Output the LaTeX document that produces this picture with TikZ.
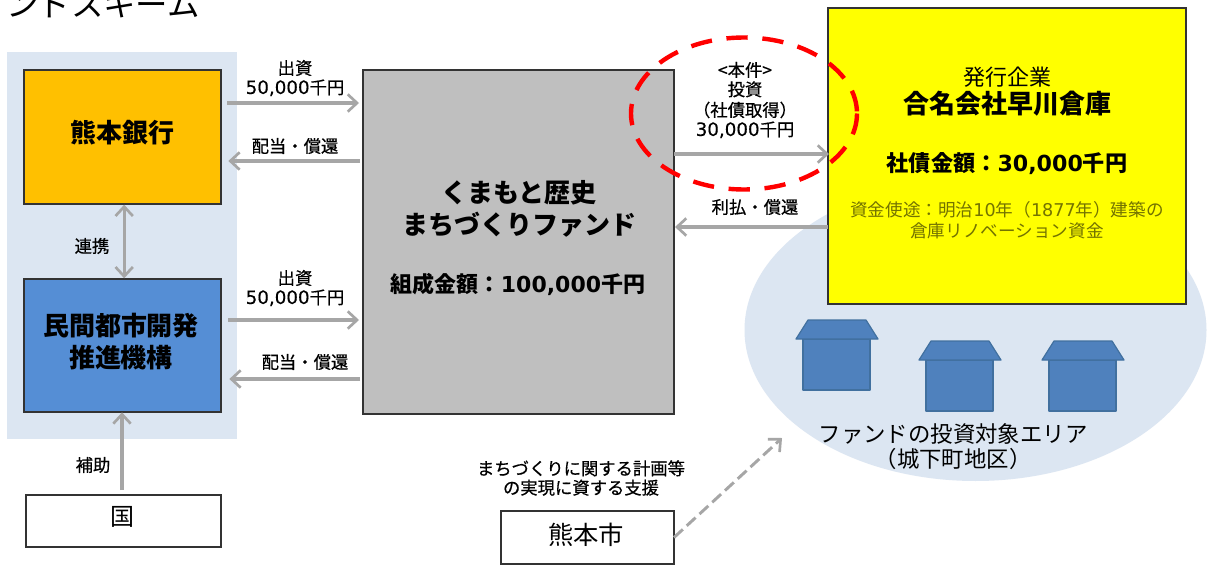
\documentclass[tikz,border=0pt]{standalone}
\usepackage{fontspec}
\setmainfont{Noto Sans CJK JP}
\newfontfamily\latinfont{DejaVu Sans}
\newfontfamily\labfont[FakeBold=0.6]{Noto Sans CJK JP}
\newfontfamily\lablatin[FakeBold=0.4]{DejaVu Sans}
\usetikzlibrary{arrows.meta,calc}
\newcommand{\fsz}[1]{\fontsize{#1}{#1}\selectfont}
\newcommand{\numt}[1]{{\latinfont #1}}
\newcommand{\numl}[1]{{\lablatin\fontsize{13.7}{13.7}\selectfont #1}}
\definecolor{panelblue}{HTML}{DCE6F2}
\definecolor{bankorange}{HTML}{FFC000}
\definecolor{orgblue}{HTML}{558ED5}
\definecolor{fundgray}{HTML}{BFBFBF}
\definecolor{lineblack}{HTML}{333333}
\definecolor{arrowgray}{HTML}{A6A6A6}
\definecolor{housefill}{HTML}{4F81BD}
\definecolor{houseline}{HTML}{41709F}
\definecolor{olivetext}{HTML}{737300}
\definecolor{dashred}{HTML}{FF0000}
\definecolor{issuerfill}{HTML}{FFFF00}
\tikzset{
  x=0.75pt,y=-0.75pt,
  boxn/.style={draw=lineblack,line width=1.3pt,anchor=north west,inner sep=0pt,outer sep=0pt},
  flow/.style={draw=arrowgray,line width=2.4pt,-{Straight Barb[length=7pt,width=13pt,line width=2pt]}},
  flowboth/.style={draw=arrowgray,line width=2.4pt,{Straight Barb[length=7pt,width=13pt,line width=2pt]}-{Straight Barb[length=7pt,width=13pt,line width=2pt]}},
  flowdash/.style={draw=arrowgray,line width=2.2pt,dash pattern=on 9pt off 4pt,-{Straight Barb[length=7pt,width=13pt,line width=2pt]}},
  lab/.style={align=center,inner sep=0pt,font=\labfont\fsz{13}},
  big/.style={align=center,inner sep=0pt,font=\fsz{19.5}\bfseries},
  house/.style={fill=housefill,draw=houseline,line width=0.9pt,line join=round},
}
\begin{document}
\begin{tikzpicture}
\useasboundingbox (0,0) rectangle (1218,567);
\fill[white] (0,0) rectangle (1218,567);
\begin{scope}
\clip (0,0) rectangle (1218,567);
\node[anchor=base west,inner sep=0pt,font=\fsz{24.3}] (title) at (6,16.5) {ンドスキーム};
\end{scope}
% backgrounds
\fill[panelblue] (7,52) rectangle (237,439);
\fill[panelblue] (975.5,330) ellipse [x radius=231,y radius=151];
% boxes
\node[boxn,fill=bankorange,minimum width=148pt,minimum height=100.5pt] (bank) at (24,70) {};
\node[boxn,fill=orgblue,minimum width=148pt,minimum height=100pt] (org) at (24,279) {};
\node[boxn,fill=fundgray,minimum width=233.25pt,minimum height=258pt] (fund) at (363,70) {};
\node[boxn,fill=issuerfill,minimum width=268.5pt,minimum height=222pt] (issuer) at (828,8) {};
\node[boxn,fill=white,minimum width=146.25pt,minimum height=39pt] (gov) at (26,495) {};
\node[boxn,fill=white,minimum width=129.75pt,minimum height=39.75pt] (city) at (501,511) {};
% box texts
\node[big] (bankt) at (122,133) {熊本銀行};
\node[big] (orgt) at (121,342) {民間都市開発\\[4.5pt]推進機構};
\node[big] (fundt) at (519,209) {くまもと歴史\\[4.5pt]まちづくりファンド};
\node[align=center,inner sep=0pt,font=\fsz{16.5}\bfseries] (fundamt) at (518,284) {組成金額：\numt{100,000}千円};
\node[inner sep=0pt,font=\fsz{16.5}] (issuera) at (1007,77) {発行企業};
\node[big] (issuerb) at (1007,104) {合名会社早川倉庫};
\node[inner sep=0pt,font=\fsz{16.6}\bfseries] (issuerc) at (1007,164) {社債金額：\numt{30,000}千円};
\node[align=center,inner sep=0pt,font=\fsz{13.2},text=olivetext] (issuerd) at (1007,220) {資金使途：明治\numt{10}年（\numt{1877}年）建築の\\[2.5pt]倉庫リノベーション資金};
\node[inner sep=0pt,font=\fsz{18}] (govt) at (122,517) {国};
\node[inner sep=0pt,font=\fsz{19}] (cityt) at (586,535) {熊本市};
% houses
\foreach \hx/\hy/\hn in {796/320/a,919/341/b,1042/341/c}{
  \begin{scope}[shift={(\hx,\hy)}]
    \path[house] (7,19) rectangle (74,70);
    \path[house] (0,19) -- (12,0) -- (70,0) -- (82,19) -- cycle;
  \end{scope}
}
\node[align=center,inner sep=0pt,font=\fsz{16.8}] (area) at (953,447) {ファンドの投資対象エリア\\[2pt]（城下町地区）};
\node[lab] (support) at (581,478) {まちづくりに関する計画等\\[1.5pt]の実現に資する支援};
% connectors
\draw[flow] ([shift={(6,33)}]bank.north east) -- ([shift={(-4,33)}]fund.north west);
\draw[flow] ([shift={(-3,91)}]fund.north west) -- ([shift={(7,91)}]bank.north east);
\draw[flowboth] ([shift={(1.5,0.7)}]bank.south) -- ([shift={(1.5,-0.7)}]org.north);
\draw[flow] ([shift={(7,41)}]org.north east) -- ([shift={(-4,250)}]fund.north west);
\draw[flow] ([shift={(-3,309)}]fund.north west) -- ([shift={(8,100)}]org.north east);
\draw[flow] ([shift={(-1.5,-5)}]gov.north) -- ([shift={(-1.5,0)}]gov.north |- org.south);
\draw[flow] ([shift={(0,84)}]fund.north east) -- ([shift={(1,146)}]issuer.north west);
\draw[flow] ([shift={(0,219)}]issuer.north west) -- ([shift={(1,157)}]fund.north east);
\coordinate (areatip) at (782,438);
\draw[flowdash] (city.east) -- (areatip);
% labels
\node[lab] (l1) at (295,78) {出資\\[1.5pt]\numl{50,000}千円};
\node[lab] (l2) at (295,146) {配当・償還};
\node[lab] (l3) at (92,246) {連携};
\node[lab] (l4) at (295,288) {出資\\[1.5pt]\numl{50,000}千円};
\node[lab] (l5) at (305,362) {配当・償還};
\node[lab] (l6) at (93,465) {補助};
\node[lab] (l7) at (745,100) {<本件>\\[1.5pt]投資\\[2.5pt]（社債取得）\\[1.5pt]\numl{30,000}千円};
\node[lab] (l8) at (755,207) {利払・償還};
% highlight
\draw[dashred,line width=3.3pt,dash pattern=on 16pt off 11pt] (744,113.5) ellipse [x radius=113,y radius=76];
\end{tikzpicture}
\end{document}
